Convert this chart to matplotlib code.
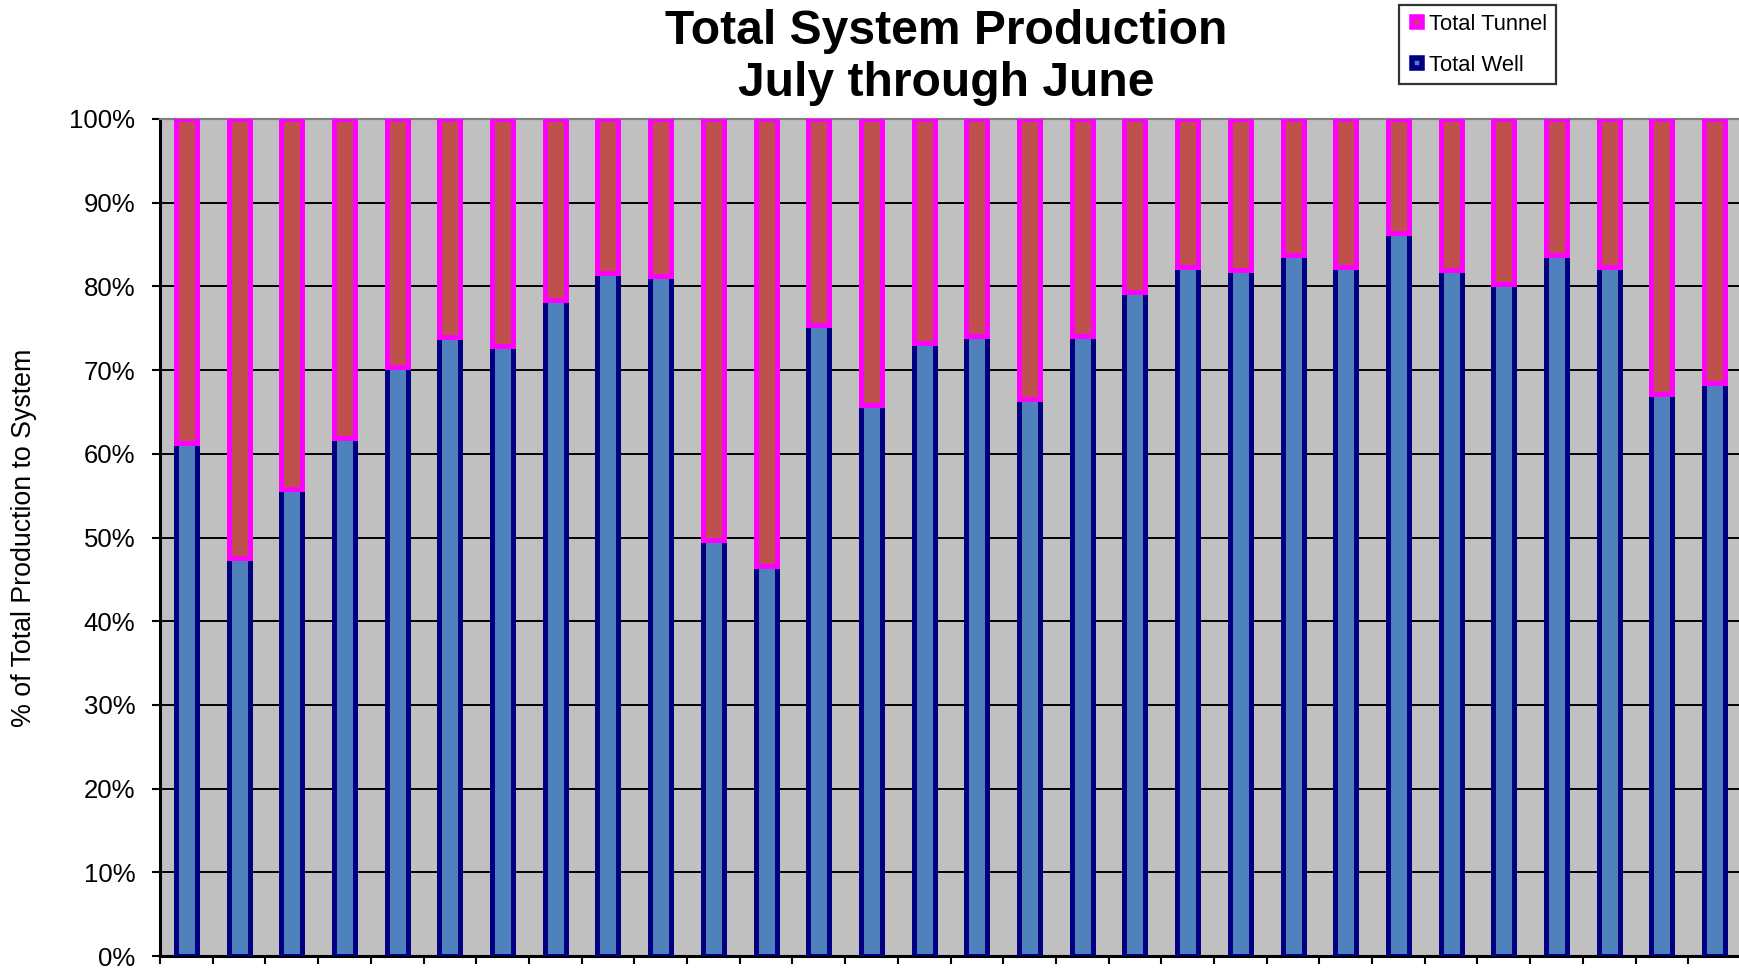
import numpy as np
import matplotlib
matplotlib.use("Agg")
import matplotlib.pyplot as plt
from matplotlib.lines import Line2D
from matplotlib.ticker import FuncFormatter

plt.rcParams['font.family'] = ['Liberation Sans', 'DejaVu Sans']

# share of total production from wells (%), one bar per month
well_pct = [61.3, 47.5, 55.8, 61.9, 70.4, 73.9, 72.9, 78.4, 81.6, 81.2,
            49.7, 46.6, 75.4, 65.8, 73.2, 74.1, 66.5, 74.1, 79.3, 82.3,
            81.9, 83.8, 82.3, 86.4, 81.9, 80.3, 83.8, 82.3, 67.1, 68.4]
tunnel_pct = [100 - w for w in well_pct]
series_names = ['Total Tunnel', 'Total Well']
y_ticks = list(range(0, 101, 10))

W, H = 1739, 969
fig = plt.figure(figsize=(W / 100, H / 100), dpi=100)
ax = fig.add_axes([160 / W, 13 / H, (1741 - 160) / W, (956 - 119) / H])
ax.set_facecolor('#C0C0C0')

x = np.arange(len(well_pct))
bw = 0.40
ax.bar(x, well_pct, width=bw, color='#4F81BD', edgecolor='#000080', linewidth=3.6, zorder=3)
ax.bar(x, tunnel_pct, bottom=well_pct, width=bw, color='#C0504D', edgecolor='#FF00FF',
       linewidth=3.6, zorder=4)

ax.set_xlim(-0.5, len(well_pct) - 0.5)
ax.set_ylim(0, 100)
ax.set_yticks(y_ticks)
ax.yaxis.set_major_formatter(FuncFormatter(lambda v, p: f'{v:.0f}%'))
ax.set_xticks(np.arange(-0.5, len(well_pct), 1))
ax.set_xticklabels([])
ax.tick_params(axis='y', direction='out', length=5.8, width=1.5, pad=12, labelsize=18.5)
ax.tick_params(axis='x', direction='out', length=5.8, width=1.5)
ax.yaxis.grid(True, color='black', linewidth=1.4)
ax.set_axisbelow(True)

for side in ['left', 'bottom']:
    ax.spines[side].set_color('black')
    ax.spines[side].set_linewidth(2.2)
ax.spines['top'].set_color('#808080')
ax.spines['top'].set_linewidth(1.6)
ax.spines['right'].set_visible(False)

fig.text(24 / W, 1 - 538 / H, '% of Total Production to System', rotation=90,
         ha='center', va='center', fontsize=19.3)

# title, two lines
fig.text(946 / W, 1 - 43.5 / H, 'Total System Production', ha='center', va='baseline',
         fontsize=34.6, fontweight='bold')
fig.text(946 / W, 1 - 96 / H, 'July through June', ha='center', va='baseline',
         fontsize=34.6, fontweight='bold')

handles = [
    Line2D([], [], linestyle='none', marker='s', markersize=7.6, markerfacecolor='#C0504D',
           markeredgecolor='#FF00FF', markeredgewidth=4),
    Line2D([], [], linestyle='none', marker='s', markersize=7.6, markerfacecolor='#4F81BD',
           markeredgecolor='#000080', markeredgewidth=4),
]
leg = fig.legend(handles, series_names, loc='upper left',
                 bbox_to_anchor=(1399 / W, 1 - 5 / H), bbox_transform=fig.transFigure,
                 fontsize=15.8, frameon=True, fancybox=False, borderpad=0.4,
                 labelspacing=0.9, handlelength=0.8, handletextpad=0.15, borderaxespad=0)
leg.get_frame().set_edgecolor('black')
leg.get_frame().set_linewidth(1.6)

fig.savefig('out.png', dpi=100)
